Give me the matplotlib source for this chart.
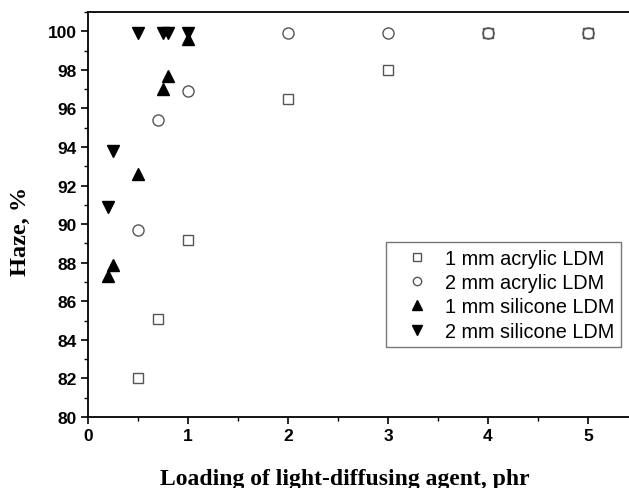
import matplotlib
matplotlib.use("Agg")
import matplotlib.pyplot as plt
from matplotlib.ticker import MultipleLocator

# Data
acr1_x = [0.5, 0.7, 1.0, 2.0, 3.0, 4.0, 5.0]
acr1_y = [82.0, 85.1, 89.2, 96.5, 98.0, 99.9, 99.9]
acr2_x = [0.5, 0.7, 1.0, 2.0, 3.0, 4.0, 5.0]
acr2_y = [89.7, 95.4, 96.9, 99.9, 99.9, 99.9, 99.9]
sil1_x = [0.2, 0.25, 0.5, 0.75, 0.8, 1.0]
sil1_y = [87.3, 87.9, 92.6, 97.0, 97.7, 99.6]
sil2_x = [0.2, 0.25, 0.5, 0.75, 0.8, 1.0]
sil2_y = [90.9, 93.8, 99.9, 99.9, 99.9, 99.9]
labels = ["1 mm acrylic LDM", "2 mm acrylic LDM", "1 mm silicone LDM", "2 mm silicone LDM"]
xticks = [0, 1, 2, 3, 4, 5]
yticks = [80, 82, 84, 86, 88, 90, 92, 94, 96, 98, 100]

fig = plt.figure(figsize=(6.29, 4.89), dpi=100)
ax = fig.add_axes([88/629, 1-418/489, 1-88/629, (418-13)/489])

ax.plot(acr1_x, acr1_y, ls='none', marker='s', ms=7, mfc='white', mec='#555555', mew=1.0, label=labels[0])
ax.plot(acr2_x, acr2_y, ls='none', marker='o', ms=8, mfc='none', mec='#555555', mew=1.0, label=labels[1])
ax.plot(sil1_x, sil1_y, ls='none', marker='^', ms=9, mfc='black', mec='black', label=labels[2])
ax.plot(sil2_x, sil2_y, ls='none', marker='v', ms=9, mfc='black', mec='black', label=labels[3])

ax.set_xlim(0, 5.41)
ax.set_ylim(80, 101)
ax.set_xticks(xticks)
ax.set_yticks(yticks)
ax.xaxis.set_minor_locator(MultipleLocator(0.5))
ax.yaxis.set_minor_locator(MultipleLocator(1))
ax.tick_params(which='major', direction='out', length=5, width=1.2, pad=3)
ax.tick_params(which='minor', direction='out', length=3, width=1.0)
ax.tick_params(top=False, right=False)
for lbl in ax.get_xticklabels() + ax.get_yticklabels():
    lbl.set_fontfamily('Liberation Sans')
    lbl.set_fontweight('bold')
    lbl.set_fontsize(12.5)
ax.spines['right'].set_visible(False)
for s in ['left', 'bottom', 'top']:
    ax.spines[s].set_linewidth(1.3)

ax.set_xlabel("Loading of light-diffusing agent, phr", fontfamily='Liberation Serif',
              fontweight='bold', fontsize=17)
ax.xaxis.set_label_coords((345-88)/541, (418-469)/405)
ax.set_ylabel("Haze, %", fontfamily='Liberation Serif', fontweight='bold', fontsize=17.5)
ax.yaxis.set_label_coords((31-88)/541, (418-231)/405)

leg = ax.legend(loc='upper left', bbox_to_anchor=((386-88)/541, (418-243)/405),
                prop={'family': 'Liberation Sans', 'size': 14.3}, frameon=True, fancybox=False,
                edgecolor='#555555', handlelength=2.46, handletextpad=0.18, borderpad=0.33,
                borderaxespad=0, labelspacing=0.27, markerscale=0.75)
leg.get_frame().set_linewidth(1.0)

fig.savefig("out.png", dpi=100)
